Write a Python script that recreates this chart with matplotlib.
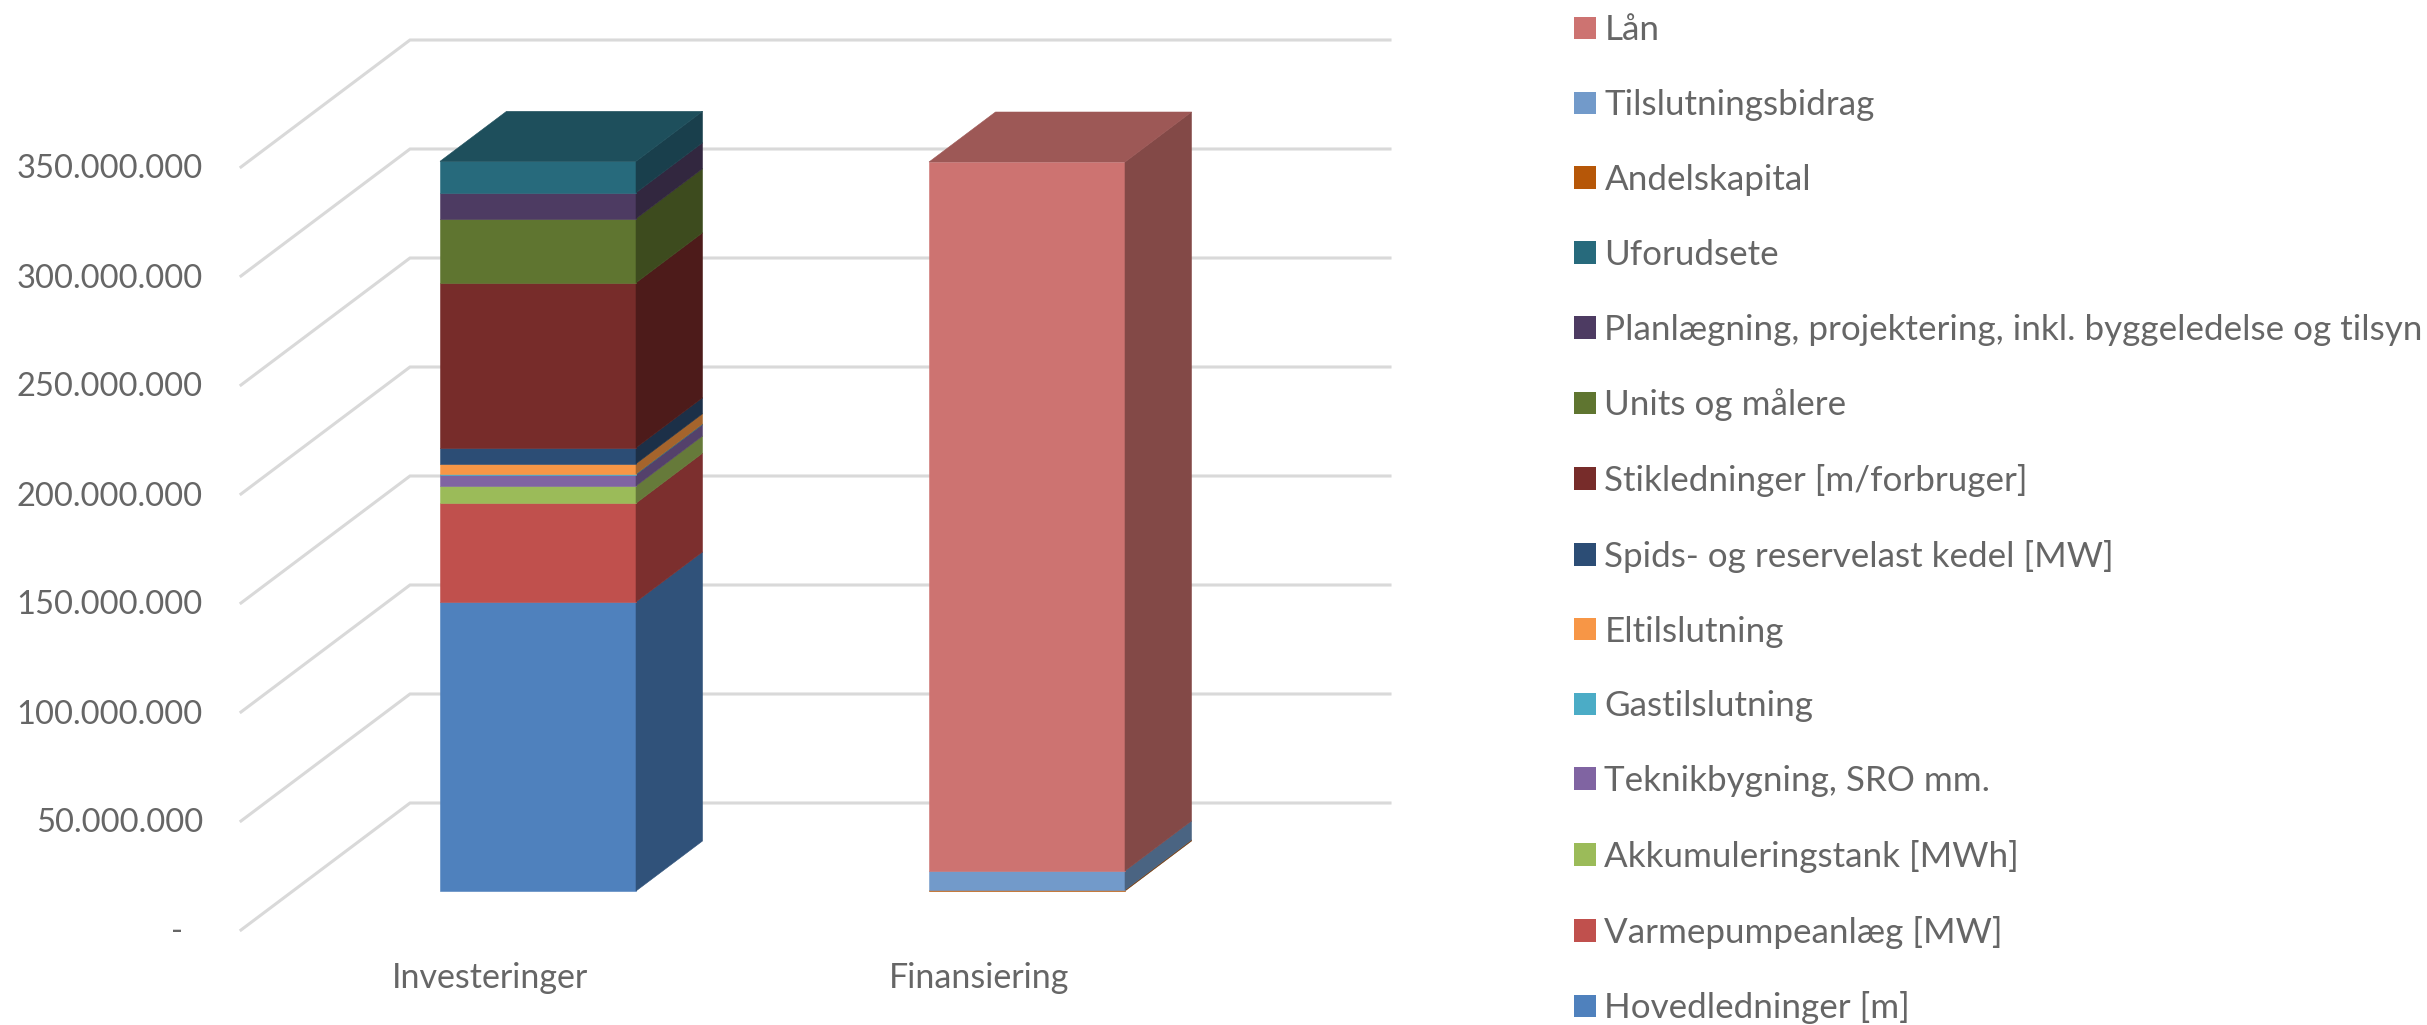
import numpy as np
import matplotlib
matplotlib.use("Agg")
import matplotlib.pyplot as plt
from matplotlib.patches import Patch

plt.rcParams['font.family'] = ['Lato', 'DejaVu Sans']

# values in mio. kr, stacked from the bottom up
categories = ["Investeringer", "Finansiering"]
series_names = [
    "Hovedledninger [m]", "Varmepumpeanlæg [MW]", "Akkumuleringstank [MWh]",
    "Teknikbygning, SRO mm.", "Gastilslutning", "Eltilslutning",
    "Spids- og reservelast kedel [MW]", "Stikledninger [m/forbruger]", "Units og målere",
    "Planlægning, projektering, inkl. byggeledelse og tilsyn", "Uforudsete",
    "Andelskapital", "Tilslutningsbidrag", "Lån",
]
investeringer = [132.6, 45.3, 7.9, 5.2, 0.3, 4.7, 7.3, 75.7, 29.4, 11.9, 14.4, 0, 0, 0]
finansiering = [0, 0, 0, 0, 0, 0, 0, 0, 0, 0, 0, 0.5, 8.7, 325.2]

front_colors = ["#4F81BD", "#C0504D", "#9BBB59", "#8064A2", "#4BACC6", "#F79646", "#2C4D75",
                "#772C2A", "#5F7530", "#4D3B62", "#276A7C", "#B65708", "#729ACA", "#CD7371"]
side_colors = ["#30527A", "#7C2F2E", "#667A3A", "#54416B", "#30707F", "#A5642C", "#1C3048",
               "#4D1B1A", "#3D4B1E", "#32273F", "#193F4C", "#763805", "#4A6482", "#834947"]
top_colors = ["#3D6594", "#963F3D", "#799249", "#644E7F", "#3A869B", "#C17536", "#223C5B",
              "#5D2221", "#4A5B25", "#3C2E4C", "#1E4F5C", "#8E4406", "#59789E", "#9D5856"]

y_ticks = [0, 50, 100, 150, 200, 250, 300, 350]
y_tick_labels = ["-", "50.000.000", "100.000.000", "150.000.000", "200.000.000",
                 "250.000.000", "300.000.000", "350.000.000"]

W, H = 2427, 1025
PX_Y = 2.18    # pixels per mio.
PX_X = 489.0   # pixels between the two bars

fig = plt.figure(figsize=(W / 100, H / 100), dpi=100)
ax = fig.add_axes([0, 0, 1, 1])
ax.set_xlim(-538 / PX_X, (W - 538) / PX_X)
ax.set_ylim((891 - H) / PX_Y, 891 / PX_Y)
ax.axis('off')

# walls: front edge of floor, back corner, right end of the gridlines
x_front, x_back, x_end = -297 / PX_X, -128 / PX_X, 852 / PX_X
y_front, y_back = -39 / PX_Y, 88 / PX_Y
for v in y_ticks:
    ax.plot([x_front, x_back, x_end], [v + y_front, v + y_back, v + y_back],
            color="#D9D9D9", lw=2.2, zorder=1, solid_joinstyle='miter')

for v, lab in zip(y_ticks, y_tick_labels):
    x_lab = -335 / PX_X if v > 0 else -355 / PX_X
    ax.text(x_lab, v + y_front - 2.5 / PX_Y, lab, ha='right', va='center', fontsize=23.5, color="#666666")

# the 3D looking bars
half_w = 98 / PX_X
dep_x, dep_y = 66.5 / PX_X, 50 / PX_Y
for pos, values in enumerate([investeringer, finansiering]):
    values = np.array(values)
    bottoms = np.concatenate([[0], np.cumsum(values)[:-1]])
    x0, x1 = pos - half_w, pos + half_w
    for i, (val, bot) in enumerate(zip(values, bottoms)):
        if val == 0:
            continue
        top = bot + val
        ax.fill([x0, x1, x1, x0], [bot, bot, top, top], color=front_colors[i], lw=0.4, zorder=3)
        ax.fill([x1, x1 + dep_x, x1 + dep_x, x1], [bot, bot + dep_y, top + dep_y, top],
                color=side_colors[i], lw=0.4, zorder=3)
    last = np.nonzero(values)[0][-1]
    top = bottoms[last] + values[last]
    ax.fill([x0, x1, x1 + dep_x, x0 + dep_x], [top, top, top + dep_y, top + dep_y],
            color=top_colors[last], lw=0.4, zorder=3)
    ax.text(pos - 48 / PX_X, -87.5 / PX_Y, categories[pos], ha='center', va='center',
            fontsize=24.5, color="#666666")

F = 35.0  # legend font size in pixels
handles = [Patch(facecolor=c, edgecolor='none', label=n) for c, n in zip(front_colors, series_names)]
leg = ax.legend(handles=handles[::-1], loc='upper left', bbox_to_anchor=(1574 / W, 1 - 14.5 / H),
                bbox_transform=fig.transFigure, frameon=False, fontsize=F * 0.72,
                borderpad=0, borderaxespad=0, handlelength=22 / F, handleheight=21.5 / F,
                handletextpad=8.5 / F, labelspacing=1.222, labelcolor="#666666")

fig.savefig("out.png", dpi=100)
